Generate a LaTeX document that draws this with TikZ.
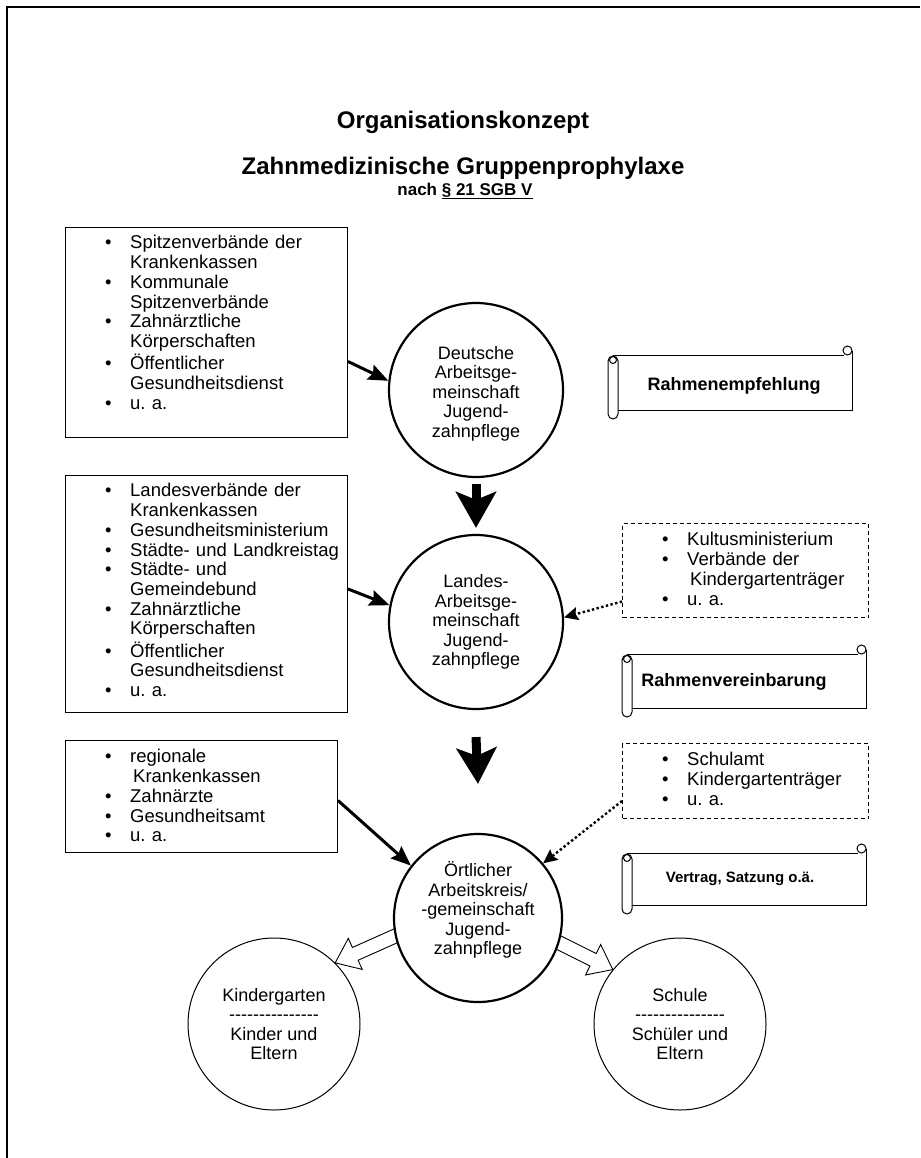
\documentclass[tikz,border=0pt]{standalone}
\usepackage{fontspec}
\setmainfont{Liberation Sans}
\usetikzlibrary{arrows.meta,calc}
\pgfdeclarelayer{bg}
\pgfsetlayers{bg,main}
\setlength{\parindent}{0pt}
\frenchspacing
\newcommand\bl[1]{\strut\makebox[25pt][l]{\textbullet}#1\par}
\newcommand\cl[1]{\strut\hspace*{25pt}#1\par}
\newcommand\dashline{-{}-{}-{}-{}-{}-{}-{}-{}-{}-{}-{}-{}-{}-{}-}
\newcommand\scrollshape[4]{%
  \draw[scrollline] (#1+10,#4) -- (#3,#4) -- (#3,#2-4);
  \draw[scrollline] (#1+5,#2) -- (#3-8,#2);
  \draw[scrollline] (#3-4.5,#2-4.5) circle[radius=4.5pt];
  \draw[scrollline, rounded corners=5pt, fill=white] (#1,#2+1) rectangle (#1+10,#4+9);
  \draw[scrollline] (#1+5,#2+5) circle[radius=3.5pt];
}
\newcommand\hollowarr[3]{%
  \draw[hollowarrow] ($(#1)!7pt!90:(#2)$) -- ($(#3)!7pt!90:(#2)$) -- ($(#3)!17pt!90:(#2)$)
    -- (#2) -- ($(#3)!17pt!-90:(#2)$) -- ($(#3)!7pt!-90:(#2)$) -- ($(#1)!7pt!-90:(#2)$) -- cycle;
}
\begin{document}
\begin{tikzpicture}[
 x=1pt, y=-1pt,
 txt/.style={font=\fontsize{18.5}{19.7}\selectfont},
 ctxt/.style={font=\fontsize{18}{19.5}\selectfont},
 listbox/.style={draw, line width=1pt, anchor=north west, inner sep=0},
 dashbox/.style={draw, line width=1pt, dash pattern=on 4pt off 3pt, anchor=north west, inner sep=0},
 listtxt/.style={txt, anchor=north west, inner sep=0, text width=240pt, align=left},
 bigcirc/.style={circle, draw, line width=2.2pt, minimum size=174pt, inner sep=0, align=center, ctxt, fill=white},
 smallcirc/.style={circle, draw, line width=1pt, minimum size=172pt, inner sep=0, align=center, ctxt, fill=white},
 thickarrow/.style={line width=3pt, -{Stealth[length=20pt,width=16pt,inset=3pt]}},
 dotarrow/.style={line width=2.4pt, dash pattern=on 2.4pt off 2.4pt, -{Stealth[length=14pt,width=13pt,inset=2pt]}},
 downarrow/.style={line width=9pt, -{Stealth[length=36pt,width=40pt,inset=8pt]}},
 hollowarrow/.style={draw, line width=0.9pt, fill=white, line join=miter},
 scrollline/.style={line width=1pt},
 scrolltxt/.style={font=\fontsize{18}{20}\selectfont\bfseries, inner sep=0},
 titletxt/.style={font=\fontsize{24}{28}\selectfont\bfseries, inner sep=0}
]
\useasboundingbox (0,0) rectangle (920,1158);
% frame
\draw[line width=1.3pt] (7,1158) -- (7,7) -- (920,7);

% titles
\node[titletxt] (t1) at (463,122) {Organisationskonzept};
\node[titletxt] (t2) at (463,168) {Zahnmedizinische Gruppenprophylaxe};
\node[font=\fontsize{17}{20}\selectfont\bfseries, inner sep=0] (t3) at (465,191) {nach \underline{§ 21 SGB V}};

% left boxes
\node[listbox, minimum width=282pt, minimum height=210pt] (b1) at (65,227) {};
\node[listtxt] (b1t) at (105,235) {\bl{Spitzenverbände der}\cl{Krankenkassen}\bl{Kommunale}\cl{Spitzenverbände}\bl{Zahnärztliche}\cl{Körperschaften}\bl{Öffentlicher}\cl{Gesundheitsdienst}\bl{u. a.}};

\node[listbox, minimum width=282pt, minimum height=237pt] (b2) at (65,475) {};
\node[listtxt] (b2t) at (105,483) {\bl{Landesverbände der}\cl{Krankenkassen}\bl{Gesundheitsministerium}\bl{Städte- und Landkreistag}\bl{Städte- und}\cl{Gemeindebund}\bl{Zahnärztliche}\cl{Körperschaften}\bl{Öffentlicher}\cl{Gesundheitsdienst}\bl{u. a.}};

\node[listbox, minimum width=272pt, minimum height=112pt] (b3) at (65,740) {};
\node[listtxt] (b3t) at (105,749) {\bl{regionale}\cl{\hspace*{3pt}Krankenkassen}\bl{Zahnärzte}\bl{Gesundheitsamt}\bl{u. a.}};

% right dashed boxes
\node[dashbox, minimum width=246pt, minimum height=94pt] (d2) at (622,523) {};
\node[listtxt, text width=200pt] (d2t) at (662,532) {\bl{Kultusministerium}\bl{Verbände der}\cl{\hspace*{3pt}Kindergartenträger}\bl{u. a.}};

\node[dashbox, minimum width=246pt, minimum height=75pt] (d3) at (622,743) {};
\node[listtxt, text width=200pt] (d3t) at (662,752) {\bl{Schulamt}\bl{Kindergartenträger}\bl{u. a.}};

% scrolls
\scrollshape{608}{355}{852}{410}
\node[scrolltxt] (s1) at (734,386) {Rahmenempfehlung};
\scrollshape{622}{654}{866}{708}
\node[scrolltxt] (s2) at (734,682) {Rahmenvereinbarung};
\scrollshape{622}{853}{866}{905}
\node[scrolltxt, font=\fontsize{15}{17}\selectfont\bfseries] (s3) at (740,879) {Vertrag, Satzung o.ä.};

% circles
\node[bigcirc] (c1) at (476,390) {\rule{0pt}{20pt}Deutsche\\Arbeitsge-\\meinschaft\\Jugend-\\zahnpflege};
\node[bigcirc] (c2) at (476,622) {Landes-\\Arbeitsge-\\meinschaft\\Jugend-\\zahnpflege};
\node[bigcirc, minimum size=168pt] (c3) at (478,918) {Örtlicher\\Arbeitskreis/\\-gemeinschaft\\Jugend-\\zahnpflege\rule[-20pt]{0pt}{1pt}};
\node[smallcirc] (kg) at (274,1024) {Kindergarten\\\dashline\\Kinder und\\Eltern};
\node[smallcirc] (sch) at (680,1024) {Schule\\\dashline\\Schüler und\\Eltern};

% connectors
\draw[thickarrow] ([yshift=-29pt]b1.east) -- (c1.174);
\draw[thickarrow] ([yshift=5pt]b2.east) -- (c2.169);
\draw[thickarrow] ([yshift=-4pt]b3.east) -- (c3.142);
\draw[dotarrow] ([yshift=-31pt]d2.west) -- (c2.3);
\draw[dotarrow] ([yshift=-20pt]d3.west) -- (c3.40);
\draw[downarrow] ([yshift=-6pt]c1.south) -- ([yshift=6pt]c2.north);
\draw[downarrow] ([yshift=-27pt]c2.south) -- ([yshift=49pt]c3.north);

\coordinate (h1s) at ($(c3.center)!0.9!(c3.191)$);
\coordinate (h1e) at (kg.45);
\coordinate (h1b) at ($(h1e)!22pt!(h1s)$);
\coordinate (h2s) at ($(c3.center)!0.9!(c3.344)$);
\coordinate (h2e) at (sch.141);
\coordinate (h2b) at ($(h2e)!22pt!(h2s)$);
\begin{pgfonlayer}{bg}
\hollowarr{h1s}{h1e}{h1b}
\hollowarr{h2s}{h2e}{h2b}
\end{pgfonlayer}
\end{tikzpicture}
\end{document}
